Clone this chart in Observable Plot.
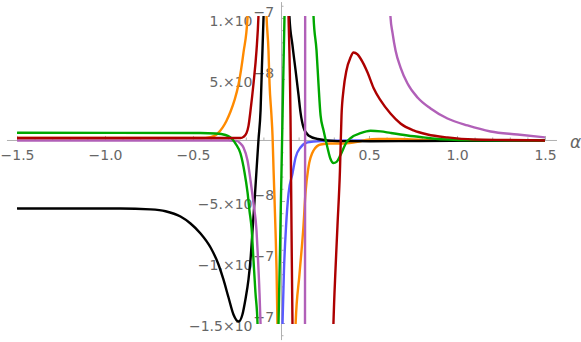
<!DOCTYPE html>
<html><head><meta charset="utf-8">
<script src="https://cdn.jsdelivr.net/npm/d3@7"></script>
<script src="https://cdn.jsdelivr.net/npm/@observablehq/plot@0.6"></script>
<style>body{margin:0;background:#fff}</style>
</head><body><div id="chart"></div>
<script>
// Values in units of 1e-8 (y) against alpha (x)
const blackAlpha = [-1.5, -0.915, -0.744, -0.659, -0.574, -0.517, -0.46, -0.403, -0.358, -0.33, -0.301, -0.273, -0.244, -0.222, -0.205, -0.1875, -0.176, -0.165, -0.153, -0.142, -0.131, -0.119, -0.111, -0.102, -0.097, 0.04, 0.045, 0.0625, 0.08, 0.097, 0.108, 0.125, 0.153, 0.205, 0.318, 0.506, 0.79, 1.13, 1.5];
const blackVal   = [-5.57, -5.57, -5.65, -5.8, -6.23, -6.8, -7.62, -8.77, -10.16, -11.39, -12.87, -14.26, -14.84, -14.26, -13.03, -11.39, -9.75, -7.46, -4.92, -2.46, 0, 2.46, 6.15, 10.16, 13, 13, 10.16, 7.79, 5.74, 3.69, 2.3, 1.07, 0.41, 0.12, -0.05, -0.06, -0.04, -0.02, 0];

const orangeAlpha = [-1.5, -0.6, -0.46, -0.403, -0.386, -0.364, -0.335, -0.313, -0.29, -0.267, -0.244, -0.216, -0.193, -0.188, -0.091, -0.085, -0.074, -0.068, -0.057, -0.051, -0.045, -0.034, -0.028, -0.023, -0.017, 0.074, 0.08, 0.102, 0.125, 0.136, 0.153, 0.182, 0.222, 0.278, 0.352, 0.43, 0.48, 0.55, 0.65, 0.8, 1.0, 1.5];
const orangeVal   = [0.2, 0.2, 0.2, 0.28, 0.35, 0.55, 1.05, 1.6, 2.35, 3.3, 4.6, 7.2, 10.08, 13, 13, 10.16, 7.38, 4.67, 2.05, 0.41, -2.46, -7.38, -10.66, -15.08, -18, -18, -15.08, -11.0, -6.97, -4.34, -2.21, -0.82, -0.33, -0.25, -0.25, -0.12, 0.05, 0.12, 0.12, 0.06, 0.02, 0];

const redAlpha = [-1.5, -0.4, -0.273, -0.233, -0.216, -0.199, -0.1875, -0.176, -0.159, -0.142, -0.131, -0.125, 0.035, 0.04, 0.051, 0.057, 0.0625, 0.068, 0.29, 0.295, 0.307, 0.318, 0.332, 0.341, 0.352, 0.369, 0.392, 0.409, 0.432, 0.449, 0.489, 0.523, 0.563, 0.619, 0.676, 0.75, 0.83, 0.943, 1.091, 1.28, 1.5];
const redVal   = [0.2, 0.2, 0.2, 0.2, 0.3, 0.6, 1.2, 2.46, 4.67, 7.38, 10.16, 13, 13, 10.16, 2.05, -7.38, -15.08, -18, -18, -15.08, -10.5, -7.0, -2.5, 2.05, 4.1, 5.74, 6.8, 7.21, 7.05, 6.72, 5.57, 4.3, 3.28, 2.21, 1.39, 0.82, 0.49, 0.25, 0.08, 0.04, 0];

const greenAlpha = [-1.5, -0.46, -0.375, -0.318, -0.29, -0.261, -0.233, -0.21, -0.193, -0.182, -0.17, -0.159, -0.148, -0.136, -0.131, -0.023, -0.017, -0.006, 0.006, 0.017, 0.023, 0.176, 0.182, 0.199, 0.21, 0.222, 0.239, 0.261, 0.278, 0.295, 0.313, 0.335, 0.369, 0.392, 0.449, 0.506, 0.563, 0.619, 0.716, 0.807, 0.903, 1.13, 1.5];
const greenVal   = [0.63, 0.61, 0.57, 0.45, 0.25, -0.25, -1.07, -2.62, -4.26, -5.74, -7.21, -9.84, -12.46, -15.08, -18, -18, -15.08, -7.0, 2.05, 10.16, 13, 13, 10.16, 7.38, 4.67, 2.05, 0.82, -0.57, -1.5, -1.85, -1.75, -1.2, -0.15, 0.2, 0.6, 0.8, 0.75, 0.62, 0.41, 0.25, 0.1, 0.02, 0];

const purpleAlpha = [-1.5, -0.3, -0.25, -0.233, -0.216, -0.193, -0.176, -0.159, -0.142, -0.136, -0.125, -0.119, -0.114, 0.128, 0.1335, 0.1345, 0.14, 0.614, 0.619, 0.631, 0.648, 0.676, 0.716, 0.773, 0.847, 0.943, 1.057, 1.188, 1.341, 1.5];
const purpleVal   = [0, 0, -0.05, -0.25, -0.57, -1.64, -3.28, -5.16, -7.38, -9.0, -12.5, -15.08, -18, -18, -15.5, 10.5, 18, 18, 10.16, 8.8, 7.38, 6.0, 4.67, 3.52, 2.62, 1.8, 1.23, 0.74, 0.49, 0.25];

const blueAlpha = [0.003, 0.006, 0.014, 0.026, 0.04, 0.0625, 0.08, 0.108, 0.148, 0.222, 0.4, 1.5];
const blueVal   = [-16.5, -14.9, -10.66, -7.0, -4.34, -2.7, -1.39, -0.57, -0.16, -0.05, 0, 0];

const xTickValues = [-1.5, -1.0, -0.5, 0.5, 1.0, 1.5];
const xTickLabels = ["\u22121.5", "\u22121.0", "\u22120.5", "0.5", "1.0", "1.5"];
const yTickValues = [10, 5, -5, -10, -15];
const yTickMantissa = ["1.\u00d710", "5.\u00d710", "\u22125.\u00d710", "\u22121.\u00d710", "\u22121.5\u00d710"];
const yTickExponent = ["\u22127", "\u22128", "\u22128", "\u22127", "\u22127"];

const series = [
  {name: "blue", color: "#5a5aff", a: blueAlpha, v: blueVal},
  {name: "orange", color: "#ff8a00", a: orangeAlpha, v: orangeVal},
  {name: "black", color: "#000000", a: blackAlpha, v: blackVal},
  {name: "purple", color: "#b160b8", a: purpleAlpha, v: purpleVal},
  {name: "green", color: "#00a800", a: greenAlpha, v: greenVal},
  {name: "darkred", color: "#ad0000", a: redAlpha, v: redVal}
];

const xMinor = d3.range(-15, 16).filter(k => k !== 0 && k % 5 !== 0).map(k => k / 10);
const xMajor = xTickValues;
const yMinor = d3.range(-16, 12).filter(k => k !== 0 && k % 5 !== 0);
const yMajor = yTickValues;

const axisColor = "#b0b0b0";
const labelColor = "#666666";

const marks = [
  Plot.ruleY([0], {x1: -1.557, x2: 1.568, stroke: axisColor, strokeWidth: 1}),
  Plot.ruleX([0], {y1: -16.4, y2: 11.3, stroke: axisColor, strokeWidth: 1}),
  Plot.ruleX(xMinor, {x: d => d, y1: 0, y2: 0, insetTop: -2.5, stroke: axisColor}),
  Plot.ruleX(xMajor, {x: d => d, y1: 0, y2: 0, insetTop: -4, stroke: axisColor}),
  Plot.ruleY(yMinor, {y: d => d, x1: 0, x2: 0, insetRight: -2.5, stroke: axisColor}),
  Plot.ruleY(yMajor, {y: d => d, x1: 0, x2: 0, insetRight: -4, stroke: axisColor}),
  Plot.text(xTickValues, {x: d => d, y: 0, text: (d, i) => xTickLabels[i], dy: 15, fill: labelColor, fontSize: 14}),
  Plot.text(yTickValues, {x: 0, y: d => d, text: (d, i) => yTickMantissa[i], textAnchor: "end", dx: -29, dy: 3, fill: labelColor, fontSize: 14}),
  Plot.text(yTickValues, {x: 0, y: d => d, text: (d, i) => yTickExponent[i], textAnchor: "start", dx: -28, dy: -6, fill: labelColor, fontSize: 14}),
  Plot.text(["\u03b1"], {x: 1.5, y: 0, text: d => d, dx: 30, dy: 2, fontStyle: "italic", fontSize: 17, fill: labelColor})
];

for (const s of series) {
  const rows = s.a.map((a, i) => ({alpha: a, v: s.v[i]}));
  marks.push(Plot.line(rows, {x: "alpha", y: "v", stroke: s.color, strokeWidth: 2.4, curve: "monotone-x", clip: true}));
}

const chart = Plot.plot({
  width: 581,
  height: 342,
  marginLeft: 17,
  marginRight: 36,
  marginTop: 16,
  marginBottom: 18,
  x: {domain: [-1.5, 1.5], axis: null},
  y: {domain: [-15.08, 10.16], axis: null},
  style: {fontFamily: "DejaVu Sans", fontSize: "14px", background: "white", overflow: "visible"},
  marks
});
document.getElementById("chart").appendChild(chart);
</script>
</body></html>
